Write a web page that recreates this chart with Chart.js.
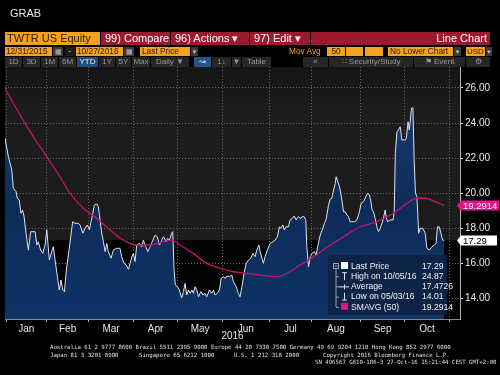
<!DOCTYPE html>
<html>
<head>
<meta charset="utf-8">
<script src="https://cdn.jsdelivr.net/npm/chart.js@4.4.0/dist/chart.umd.min.js"></script>
<style>
  html, body { margin: 0; padding: 0; background: #000; }
  #wrap { position: relative; width: 500px; height: 375px; overflow: hidden; font-family: "Liberation Sans", Arial, sans-serif; }
  #chartBox { position: absolute; left: 0; top: 0; width: 500px; height: 375px; }
  .b { position: absolute; box-sizing: border-box; white-space: nowrap; display: flex; align-items: center; line-height: 1; overflow: hidden; }
  .or { background: #f4a11f; color: #2a1a00; padding-left: 2px; }
  .rd { background: #9c1a2e; color: #fff; padding-left: 4px; }
  .r1 { top: 32px; height: 13px; font-size: 11px; }
  .r2 { top: 47px; height: 9px; font-size: 8.3px; }
  .r3 { top: 57px; height: 10px; font-size: 8px; background: #262626; color: #9a9a9a; justify-content: center; }
  .gr { background: #3a3a3a; color: #bbb; justify-content: center; }
  .ft { position: absolute; font-family: "DejaVu Sans Mono", monospace; font-size: 5.7px; color: #e0e0e0; white-space: pre; line-height: 1; }
</style>
</head>
<body>
<div id="wrap">
  <div id="chartBox"><canvas id="myChart"></canvas></div>

  <div class="b" style="left:10px;top:8px;font-size:11px;color:#e8e8e8;">GRAB</div>

  <div class="b r1 or" style="left:5px;width:95px;">TWTR US Equity</div>
  <div class="b r1 rd" style="left:101px;width:69px;">99) Compare</div>
  <div class="b r1 rd" style="left:171px;width:78px;">96) Actions &#9662;</div>
  <div class="b r1 rd" style="left:250px;width:60px;">97) Edit &#9662;</div>
  <div class="b r1 rd" style="left:311px;width:179px;justify-content:flex-end;padding-right:3px;">Line Chart</div>

  <div class="b r2 or" style="left:5px;width:47px;padding-left:1px;">12/31/2015</div>
  <div class="b r2 gr" style="left:53px;width:10px;font-size:7px;">&#9638;</div>
  <div class="b r2" style="left:65px;width:10px;background:#1e1e1e;color:#ccc;justify-content:center;">-</div>
  <div class="b r2 or" style="left:76px;width:47px;padding-left:1px;">10/27/2016</div>
  <div class="b r2 gr" style="left:124px;width:10px;font-size:7px;">&#9638;</div>
  <div class="b r2 or" style="left:140px;width:50px;">Last Price</div>
  <div class="b r2 gr" style="left:191px;width:7px;font-size:6px;">&#9660;</div>
  <div class="b r2" style="left:289px;width:36px;color:#f4a11f;">Mov Avg</div>
  <div class="b r2 or" style="left:327px;width:18px;justify-content:center;padding:0;">50</div>
  <div class="b r2 or" style="left:346px;width:17px;"></div>
  <div class="b r2 or" style="left:365px;width:18px;"></div>
  <div class="b r2 or" style="left:388px;width:65px;">No Lower Chart</div>
  <div class="b r2 gr" style="left:454px;width:7px;font-size:6px;">&#9660;</div>
  <div class="b r2 or" style="left:466px;width:19px;padding-left:1px;font-size:8px;">USD</div>
  <div class="b r2 gr" style="left:486px;width:6px;font-size:6px;">&#9660;</div>

  <div class="b r3" style="left:5px;width:17px;">1D</div>
  <div class="b r3" style="left:23px;width:17px;">3D</div>
  <div class="b r3" style="left:41px;width:17px;">1M</div>
  <div class="b r3" style="left:59px;width:17px;">6M</div>
  <div class="b r3" style="left:77px;width:21px;background:#1f4f82;color:#e8e8e8;">YTD</div>
  <div class="b r3" style="left:99px;width:16px;">1Y</div>
  <div class="b r3" style="left:116px;width:15px;">5Y</div>
  <div class="b r3" style="left:132px;width:18px;">Max</div>
  <div class="b r3" style="left:151px;width:38px;">Daily &#9660;</div>
  <div class="b r3" style="left:194px;width:17px;background:#2b5482;color:#cfe0ff;">&#8605;</div>
  <div class="b r3" style="left:212px;width:19px;">1&#8595;</div>
  <div class="b r3" style="left:232px;width:9px;">&#9660;</div>
  <div class="b r3" style="left:242px;width:29px;">Table</div>
  <div class="b r3" style="left:303px;width:25px;">&#171;</div>
  <div class="b r3" style="left:329px;width:84px;">&#8759; Security/Study</div>
  <div class="b r3" style="left:414px;width:51px;">&#9873; Event</div>
  <div class="b r3" style="left:466px;width:24px;">&#9881;</div>

  <div class="ft" style="left:50px;top:345px;">Australia 61 2 9777 8600 Brazil 5511 2395 9000 Europe 44 20 7330 7500 Germany 49 69 9204 1210 Hong Kong 852 2977 6000</div>
  <div class="ft" style="left:50px;top:353px;">Japan 81 3 3201 8900</div>
  <div class="ft" style="left:139px;top:353px;">Singapore 65 6212 1000</div>
  <div class="ft" style="left:234px;top:353px;">U.S. 1 212 318 2000</div>
  <div class="ft" style="left:323px;top:353px;">Copyright 2016 Bloomberg Finance L.P.</div>
  <div class="ft" style="left:315px;top:360px;">SN 496567 G610-186-3 27-Oct-16 15:21:44 CEST GMT+2:00</div>
</div>

<script>
// Month labels and the first trading session of each month (session 0 = 31 Dec 2015)
const monthNames = ['Jan', 'Feb', 'Mar', 'Apr', 'May', 'Jun', 'Jul', 'Aug', 'Sep', 'Oct'];
const monthStarts = [1, 20, 40, 61, 82, 103, 125, 145, 168, 189, 210];
const yTicks = [14, 16, 18, 20, 22, 24, 26];

// TWTR last price
const priceSessions = [
    0.0, 1.6, 3.2, 3.9, 5.2, 5.8, 6.7, 7.5, 8.3, 9.0, 9.9, 11.0, 12.1, 14.2, 15.0, 15.7, 16.8, 17.8, 18.9, 19.7,
    20.9, 22.0, 22.8, 23.6, 24.7, 25.6, 26.4, 27.2, 28.0, 29.1, 30.2, 31.0, 31.9, 33.0, 34.6, 35.4, 36.7, 37.7, 38.8, 39.8,
    40.4, 41.4, 42.1, 43.3, 44.0, 44.8, 45.6, 46.4, 47.2, 48.0, 48.7, 50.0, 51.1, 52.7, 54.2, 55.0, 56.1, 57.1, 58.2, 59.0,
    59.8, 60.5, 61.3, 62.1, 63.4, 64.5, 65.2, 66.4, 67.3, 68.4, 69.7, 70.8, 71.8, 72.8, 73.9, 74.7, 76.0, 76.6, 77.5, 78.6,
    79.1, 79.7, 80.3, 81.3, 82.2, 83.3, 84.1, 84.9, 85.7, 86.5, 87.3, 88.1, 88.8, 89.6, 90.4, 91.2, 92.3, 93.3, 94.3, 95.1,
    96.4, 97.5, 98.3, 99.1, 100.1, 101.1, 101.9, 103.0, 103.8, 104.6, 105.8, 106.9, 107.7, 109.0, 110.0, 110.8, 111.7, 112.7, 113.7, 114.8,
    115.9, 116.8, 117.9, 118.7, 119.7, 120.3, 121.1, 121.8, 122.6, 123.7, 125.0, 126.3, 127.4, 128.4, 129.4, 130.0, 131.0, 131.7, 132.5, 133.6,
    134.4, 135.5, 136.3, 137.3, 138.3, 139.2, 140.4, 141.0, 141.8, 142.3, 143.1, 143.9, 144.7, 145.8, 146.7, 147.4, 148.6, 149.9, 150.6, 151.4,
    152.5, 153.3, 154.1, 154.9, 155.7, 156.1, 156.9, 157.7, 158.8, 159.6, 160.4, 161.2, 161.9, 162.7, 163.5, 164.8, 165.9, 167.1, 167.9, 169.0,
    169.8, 170.9, 171.8, 172.5, 173.0, 173.7, 174.5, 175.3, 176.1, 176.9, 177.7, 178.4, 179.2, 179.7, 180.3, 181.6, 182.9, 183.5, 184.0, 184.8,
    185.5, 186.3, 187.1, 188.7, 189.2, 190.0, 190.6, 191.0, 191.6, 192.3, 192.9, 193.5, 194.2, 195.0, 195.8, 197.0, 198.1, 198.9, 200.1, 201.3,
    202.4, 203.2, 203.9, 204.7, 205.5, 206.3, 207.0
];
const priceValues = [
    23.13, 22.07, 21.31, 20.27, 20.08, 19.70, 19.60, 18.84, 19.03, 18.65, 17.70, 16.74, 17.79, 17.79, 17.03, 17.22, 16.74, 16.55, 17.03, 17.89,
    16.17, 16.65, 16.93, 16.17, 15.22, 14.46, 15.03, 14.46, 14.36, 15.79, 16.74, 17.50, 18.36, 18.27, 18.27, 18.17, 17.70, 17.98, 18.17, 17.89,
    18.27, 18.84, 19.31, 19.37, 19.22, 18.46, 17.70, 17.22, 16.65, 17.12, 16.65, 16.27, 16.74, 16.84, 16.84, 16.36, 15.98, 15.89, 15.64, 15.98,
    16.36, 16.55, 16.08, 17.03, 17.12, 16.93, 17.31, 16.93, 16.65, 16.93, 17.31, 17.60, 17.50, 17.03, 17.31, 17.50, 17.22, 17.41, 17.31, 17.70,
    17.79, 15.60, 14.74, 14.65, 14.46, 14.01, 14.36, 14.84, 14.17, 14.46, 14.27, 14.46, 14.27, 14.65, 14.46, 14.07, 14.36, 14.17, 14.27, 14.07,
    14.46, 14.27, 14.46, 14.17, 14.27, 14.46, 15.12, 15.22, 15.12, 15.26, 15.22, 15.31, 14.93, 14.65, 14.27, 14.07, 14.65, 15.41, 15.98, 16.17,
    16.27, 16.55, 16.36, 16.74, 17.03, 16.65, 16.27, 15.98, 16.36, 16.74, 17.12, 17.22, 17.31, 17.50, 18.07, 17.98, 18.17, 17.89, 18.07, 18.07,
    18.46, 18.55, 18.69, 18.46, 18.65, 18.55, 18.65, 18.65, 18.46, 16.93, 15.79, 16.36, 16.55, 16.65, 16.46, 16.93, 17.60, 18.00, 18.27, 18.50,
    19.30, 19.65, 19.70, 20.17, 20.55, 20.93, 20.65, 20.36, 19.60, 18.93, 18.93, 18.74, 18.65, 18.36, 18.36, 18.36, 18.46, 18.93, 19.41, 19.51,
    19.70, 19.98, 19.89, 19.51, 19.03, 18.93, 18.55, 18.07, 17.79, 17.98, 18.27, 18.55, 19.03, 18.65, 18.36, 18.46, 18.46, 18.93, 22.27, 23.50,
    23.60, 23.79, 23.03, 23.03, 23.13, 24.07, 23.60, 24.07, 24.84, 24.87, 21.89, 19.98, 19.79, 17.70, 17.98, 17.98, 17.70, 16.84, 16.74, 16.93,
    17.03, 17.12, 18.07, 18.07, 17.70, 17.31, 17.29
];

// 50 day simple moving average
const smaSessions = [0, 7.1, 13.3, 19.7, 25.9, 30.7, 36.9, 43.3, 49.5, 55.8, 62.1, 68.4, 74.7, 78.6, 82.5, 88.8, 95.1, 101.4,
    107.7, 114.0, 120.3, 128.2, 132.9, 139.2, 145.0, 151.7, 159.6, 167.5, 175.3, 183.2, 189.5, 194.2, 198.1, 202.8, 207.0];
const smaValues = [25.98, 24.46, 23.22, 22.07, 20.93, 19.98, 19.13, 18.55, 17.89, 17.31, 17.03, 17.03, 17.22, 17.31, 17.03, 16.55, 15.98, 15.70,
    15.50, 15.41, 15.31, 15.22, 15.41, 15.89, 16.30, 16.90, 17.50, 18.07, 18.36, 18.84, 19.41, 19.70, 19.70, 19.51, 19.29];

const lastPrice = 17.29;
const highPrice = 24.87, highDate = '10/05/16';
const lowPrice = 14.01, lowDate = '05/03/16';
const avgPrice = 17.4726;
const lastSma = 19.2914;

const boundaries = monthStarts.map(s => s - 0.5);
const labelAt = new Map();
monthNames.forEach((m, i) => labelAt.set((boundaries[i] + boundaries[i + 1]) / 2, m));
const isBoundary = v => boundaries.includes(v);

Chart.defaults.font.family = '"Liberation Sans", Arial, sans-serif';

// gray panel above the last price, black below it
const backdrop = {
    id: 'backdrop',
    beforeDraw(chart) {
        const {ctx, chartArea: a, scales} = chart;
        const yLast = scales.y.getPixelForValue(lastPrice);
        ctx.save();
        const g = ctx.createLinearGradient(0, a.top, 0, a.top + 45);
        g.addColorStop(0, '#151515');
        g.addColorStop(1, '#1c1c1c');
        ctx.fillStyle = g;
        ctx.fillRect(a.left, a.top, a.width, yLast - a.top);
        ctx.fillStyle = '#030303';
        ctx.fillRect(a.left, yLast, a.width, a.bottom - yLast);
        ctx.restore();
    }
};

function tag(ctx, x, y, w, text, bg, fg) {
    ctx.fillStyle = bg;
    ctx.beginPath();
    ctx.moveTo(x - 4, y);
    ctx.lineTo(x, y - 5);
    ctx.lineTo(x + w, y - 5);
    ctx.lineTo(x + w, y + 5);
    ctx.lineTo(x, y + 5);
    ctx.closePath();
    ctx.fill();
    ctx.fillStyle = fg;
    ctx.font = '9.5px "Liberation Sans", Arial, sans-serif';
    ctx.textAlign = 'left';
    ctx.textBaseline = 'middle';
    ctx.fillText(text, x + 2, y + 0.5);
}

// value tags on the right axis and the statistics box
const overlays = {
    id: 'overlays',
    afterDraw(chart) {
        const {ctx, chartArea: a, scales} = chart;
        ctx.save();
        tag(ctx, a.right + 1, scales.y.getPixelForValue(lastSma), 38, lastSma.toFixed(4), '#e3148c', '#fff');
        tag(ctx, a.right + 1, scales.y.getPixelForValue(lastPrice), 36, lastPrice.toFixed(2), '#fff', '#000');

        const bx = a.right - 132, by = a.bottom - 64, bw = 119, bh = 60;
        ctx.fillStyle = 'rgba(13, 34, 70, 0.93)';
        ctx.fillRect(bx, by, bw, bh);

        const rows = [
            {icon: 'sq', color: '#ffffff', label: 'Last Price', value: lastPrice.toFixed(2)},
            {icon: 'hi', label: 'High on ' + highDate, value: highPrice.toFixed(2)},
            {icon: 'avg', label: 'Average', value: avgPrice.toFixed(4)},
            {icon: 'lo', label: 'Low on ' + lowDate, value: lowPrice.toFixed(2)},
            {icon: 'sq', color: '#e3148c', label: 'SMAVG (50)', value: lastSma.toFixed(4)}
        ];
        ctx.strokeStyle = '#9aa4b4';
        ctx.lineWidth = 1;
        ctx.strokeRect(bx + 5.5, by + 8.5, 5, 5);
        ctx.beginPath();
        ctx.moveTo(bx + 6.5, by + 11); ctx.lineTo(bx + 9.5, by + 11);
        ctx.moveTo(bx + 8, by + 14); ctx.lineTo(bx + 8, by + 52);
        ctx.stroke();
        ctx.font = '8.6px "Liberation Sans", Arial, sans-serif';
        ctx.textBaseline = 'middle';
        rows.forEach((r, i) => {
            const cy = by + 11 + i * 10.2;
            ctx.strokeStyle = '#9aa4b4';
            ctx.beginPath();
            if (i > 0) { ctx.moveTo(bx + 8, cy + 0.5); ctx.lineTo(bx + 11, cy + 0.5); }
            ctx.stroke();
            ctx.strokeStyle = '#e0e0e0';
            ctx.beginPath();
            if (r.icon === 'sq') {
                ctx.fillStyle = r.color;
                ctx.fillRect(bx + 13, cy - 4, 7, 7);
            } else if (r.icon === 'hi') {
                ctx.moveTo(bx + 14, cy - 3.5); ctx.lineTo(bx + 19, cy - 3.5);
                ctx.moveTo(bx + 16.5, cy - 3.5); ctx.lineTo(bx + 16.5, cy + 4);
            } else if (r.icon === 'avg') {
                ctx.moveTo(bx + 11, cy + 0.5); ctx.lineTo(bx + 21, cy + 0.5);
                ctx.moveTo(bx + 16.5, cy - 2); ctx.lineTo(bx + 16.5, cy + 3);
            } else {
                ctx.moveTo(bx + 16.5, cy - 4); ctx.lineTo(bx + 16.5, cy + 3.5);
                ctx.moveTo(bx + 14, cy + 3.5); ctx.lineTo(bx + 19, cy + 3.5);
            }
            ctx.stroke();
            ctx.fillStyle = '#f0f0f0';
            ctx.textAlign = 'left';
            ctx.fillText(r.label, bx + 23, cy + 0.5);
            ctx.fillText(r.value, bx + 94, cy + 0.5);
        });
        ctx.restore();
    }
};

const ctx = document.getElementById('myChart').getContext('2d');
const myChart = new Chart(ctx, {
    type: 'line',
    data: {
        datasets: [{
            label: 'SMAVG (50)',
            data: smaSessions.map((s, i) => ({x: s, y: smaValues[i]})),
            borderColor: '#c0166e',
            borderWidth: 1.3,
            pointRadius: 0,
            fill: false,
            cubicInterpolationMode: 'monotone'
        }, {
            label: 'Last Price',
            data: priceSessions.map((s, i) => ({x: s, y: priceValues[i]})),
            borderColor: '#dde3ea',
            borderWidth: 1,
            pointRadius: 0,
            tension: 0,
            fill: 'start',
            backgroundColor: function (context) {
                const area = context.chart.chartArea;
                if (!area) return '#0d2f5e';
                const g = context.chart.ctx.createLinearGradient(0, area.top, 0, area.bottom);
                g.addColorStop(0, '#1d4478');
                g.addColorStop(0.55, '#0d2b59');
                g.addColorStop(1, '#0f3366');
                return g;
            }
        }]
    },
    options: {
        responsive: true,
        maintainAspectRatio: false,
        animation: false,
        events: [],
        layout: { padding: { left: 5, top: 67, right: 0, bottom: 0 } },
        plugins: { legend: { display: false }, tooltip: { enabled: false } },
        scales: {
            x: {
                type: 'linear',
                min: 0,
                max: 214.5,
                z: 1,
                afterBuildTicks: scale => {
                    const vals = boundaries.concat(Array.from(labelAt.keys())).sort((p, q) => p - q);
                    scale.ticks = vals.map(v => ({value: v}));
                },
                afterFit: scale => { scale.height = 56; },
                ticks: {
                    autoSkip: false,
                    maxRotation: 0,
                    padding: 1,
                    color: '#e4e4e4',
                    font: { size: 10 },
                    callback: value => labelAt.get(value) || ''
                },
                grid: {
                    color: c => (c.tick && isBoundary(c.tick.value)) ? '#666666' : 'rgba(0,0,0,0)',
                    tickColor: c => (c.tick && isBoundary(c.tick.value)) ? '#b0b0b0' : 'rgba(0,0,0,0)',
                    tickLength: 3
                },
                border: { display: true, color: '#8a8a8a', dash: [1, 2] },
                title: {
                    display: true,
                    text: '2016',
                    color: '#e4e4e4',
                    font: { size: 10 },
                    padding: { top: 0, bottom: 33 }
                }
            },
            y: {
                position: 'right',
                min: 12.8,
                max: 27.2,
                z: 1,
                afterBuildTicks: scale => { scale.ticks = yTicks.map(v => ({value: v})); },
                afterFit: scale => { scale.width = 40; },
                ticks: {
                    padding: 2,
                    color: '#e8e8e8',
                    font: { size: 10 },
                    callback: value => Number(value).toFixed(2)
                },
                grid: { color: '#666666', tickColor: '#e0e0e0', tickLength: 3 },
                border: { display: true, color: '#b0b0b0', dash: [1, 2] }
            }
        }
    },
    plugins: [backdrop, overlays]
});
</script>
</body>
</html>
